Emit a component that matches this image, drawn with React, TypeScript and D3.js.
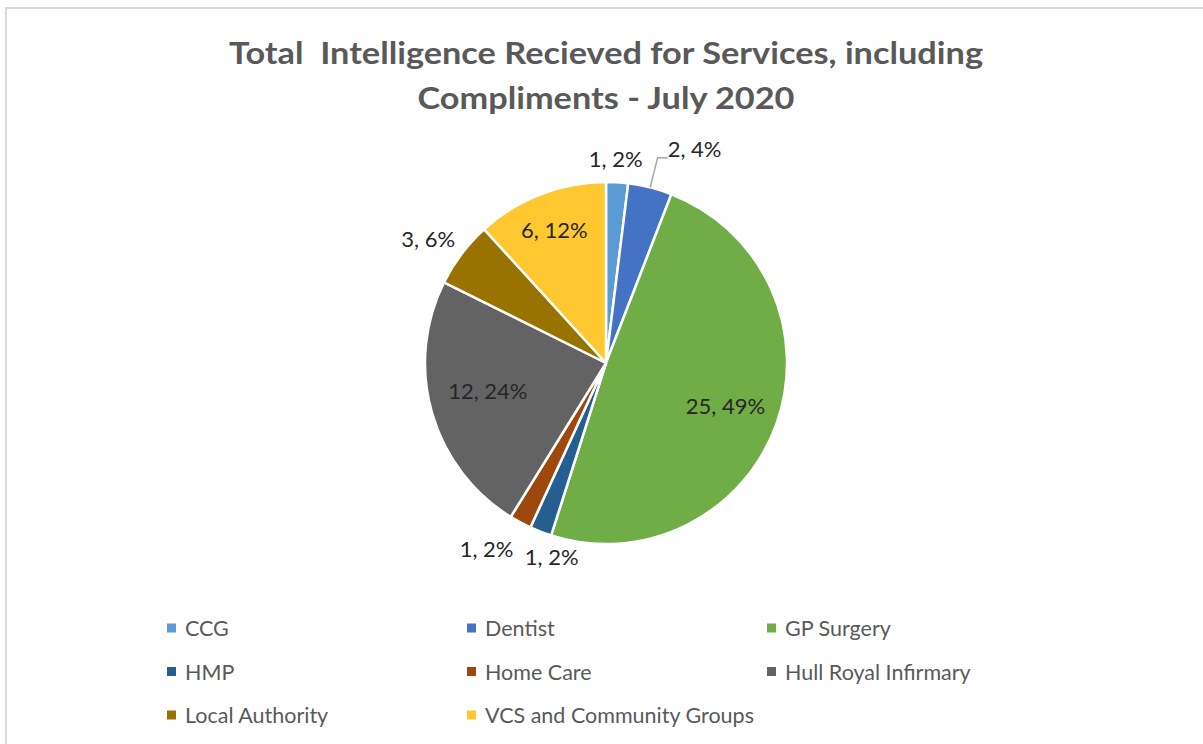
import React from "react";
import * as d3 from "d3";

const categories = [
  "CCG",
  "Dentist",
  "GP Surgery",
  "HMP",
  "Home Care",
  "Hull Royal Infirmary",
  "Local Authority",
  "VCS and Community Groups",
];
const counts = [1, 2, 25, 1, 1, 12, 3, 6];
const percentLabels = ["2%", "4%", "49%", "2%", "2%", "24%", "6%", "12%"];
const titleLines = [
  "Total  Intelligence Recieved for Services, including",
  "Compliments - July 2020",
];
const titleWidths = [754, 377];

const colors = [
  "#5B9BD5",
  "#4472C4",
  "#70AD47",
  "#255E91",
  "#9E480E",
  "#636363",
  "#997300",
  "#FFC830",
];

// label placement: radius factor (of pie radius) and angle nudge in degrees
const labelPlacement = [
  { rf: 1.13, da: -0.8, leader: false },
  { rf: 1.17, da: 0, leader: true },
  { rf: 0.7, da: 0, leader: false },
  { rf: 1.11, da: -5.5, leader: false },
  { rf: 1.22, da: 4.5, leader: false },
  { rf: 0.67, da: 3, leader: false },
  { rf: 1.2, da: -2, leader: false },
  { rf: 0.79, da: 0, leader: false },
];

const W = 1203;
const H = 744;
const cx = 606;
const cy = 363;
const R = 181;

export default function App() {
  const pie = d3
    .pie<number>()
    .sort(null)
    .value((d) => d);
  const arcs = pie(counts);
  const arcGen = d3
    .arc<d3.PieArcDatum<number>>()
    .innerRadius(0)
    .outerRadius(R);

  const polar = (angle: number, rad: number) => [
    cx + rad * Math.sin(angle),
    cy - rad * Math.cos(angle),
  ];

  const legendX = d3.scalePoint<number>().domain([0, 1, 2]).range([167, 767]);
  const legendY = d3.scalePoint<number>().domain([0, 1, 2]).range([628, 715]);

  return (
    <svg
      width={W}
      height={H}
      style={{ position: "absolute", left: 0, top: 0, background: "#fff" }}
      fontFamily="Lato, 'Open Sans', sans-serif"
    >
      <rect x={0} y={0} width={W} height={H} fill="#fff" />
      <rect
        x={6}
        y={8}
        width={1400}
        height={1000}
        fill="none"
        stroke="#d9d9d9"
        strokeWidth={2}
      />
      {titleLines.map((t, i) => (
        <text
          key={i}
          x={606}
          y={64 + i * 45}
          textAnchor="middle"
          fontWeight="bold"
          fontSize={30}
          fill="#595959"
          textLength={titleWidths[i]}
          lengthAdjust="spacingAndGlyphs"
          style={{ whiteSpace: "pre" }}
        >
          {t}
        </text>
      ))}
      <g transform={`translate(${cx},${cy})`}>
        {arcs.map((a, i) => (
          <path
            key={i}
            d={arcGen(a) || ""}
            fill={colors[i]}
            stroke="#fff"
            strokeWidth={2.5}
            strokeLinejoin="round"
          />
        ))}
      </g>
      {arcs.map((a, i) => {
        const mid = (a.startAngle + a.endAngle) / 2;
        const p = labelPlacement[i];
        const label = `${counts[i]}, ${percentLabels[i]}`;
        if (p.leader) {
          const [x0, y0] = polar(mid, R);
          const [x1, y1] = polar(mid, R * p.rf);
          const x2 = x1 + 10;
          return (
            <g key={i}>
              <polyline
                points={`${x0},${y0} ${x1},${y1} ${x2},${y1}`}
                fill="none"
                stroke="#a6a6a6"
                strokeWidth={1.5}
              />
              <text x={x2} y={y1 - 1} fontSize={22} fill="#262626">
                {label}
              </text>
            </g>
          );
        }
        const ang = mid + (p.da * Math.PI) / 180;
        const [x, y] = polar(ang, R * p.rf);
        return (
          <text
            key={i}
            x={x}
            y={y}
            textAnchor="middle"
            dominantBaseline="central"
            fontSize={22}
            fill="#262626"
          >
            {label}
          </text>
        );
      })}
      {categories.map((c, i) => {
        const col = i % 3;
        const row = Math.floor(i / 3);
        const x = legendX(col) as number;
        const y = legendY(row) as number;
        return (
          <g key={c}>
            <rect x={x} y={y - 4.5} width={9} height={9} fill={colors[i]} />
            <text
              x={x + 18}
              y={y}
              dominantBaseline="central"
              fontSize={21.5}
              fill="#595959"
            >
              {c}
            </text>
          </g>
        );
      })}
    </svg>
  );
}
